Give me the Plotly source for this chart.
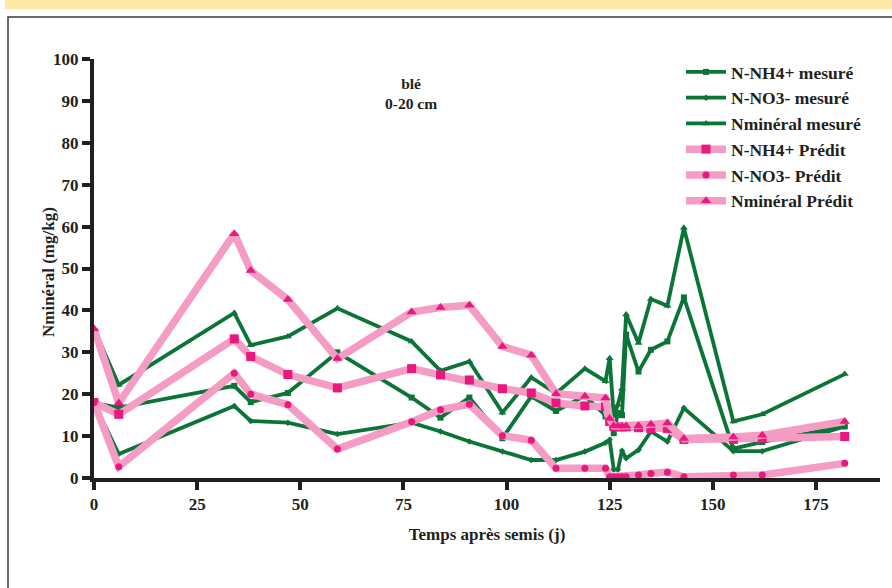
import plotly.graph_objects as go

# ---------------- data ----------------
t_meas = [0, 6, 34, 38, 47, 59, 77, 84, 91, 99, 106, 112, 119, 124, 125, 126, 127, 128, 129, 132, 135, 139, 143, 155, 162, 182]
nh4_meas = [17.9, 16.8, 22.0, 18.1, 20.3, 30.0, 19.2, 14.4, 19.2, 9.5, 19.5, 16.0, 19.6, 14.7, 14.0, 10.7, 15.5, 15.0, 34.2, 25.4, 30.6, 32.6, 43.1, 7.0, 8.6, 12.3]
no3_meas = [17.9, 5.7, 17.2, 13.6, 13.2, 10.5, 13.2, 11.1, 8.7, 6.3, 4.3, 4.3, 6.3, 8.4, 9.1, 2.0, 2.0, 6.5, 4.7, 6.7, 11.1, 8.7, 16.7, 6.4, 6.4, 12.3]
nmin_meas = [35.6, 22.2, 39.4, 31.7, 33.8, 40.5, 32.6, 25.6, 27.8, 15.6, 24.0, 20.2, 26.1, 23.1, 28.6, 14.8, 17.5, 21.3, 39.0, 32.2, 42.7, 41.1, 59.7, 13.5, 15.2, 24.8]

t_pred = [0, 6, 34, 38, 47, 59, 77, 84, 91, 99, 106, 112, 119, 124, 125, 126, 127, 128, 129, 132, 135, 139, 143, 155, 162, 182]
nh4_pred = [18.0, 15.2, 33.2, 29.0, 24.7, 21.5, 26.1, 24.6, 23.4, 21.3, 20.3, 17.9, 17.2, 17.0, 13.5, 12.3, 12.2, 12.2, 12.2, 12.0, 11.8, 11.8, 9.2, 9.2, 9.5, 9.9]
no3_pred = [18.0, 2.7, 25.0, 20.0, 17.5, 6.9, 13.4, 16.3, 17.6, 10.1, 9.0, 2.3, 2.3, 2.3, 0.3, 0.3, 0.3, 0.3, 0.3, 0.7, 1.1, 1.4, 0.3, 0.7, 0.7, 3.5]
nmin_pred = [35.6, 17.9, 58.3, 49.5, 42.6, 28.5, 39.6, 40.7, 41.2, 31.4, 29.3, 20.1, 19.5, 19.1, 14.2, 12.5, 12.4, 12.4, 12.4, 12.5, 12.8, 13.1, 9.4, 9.8, 10.2, 13.5]

x_ticks = [0, 25, 50, 75, 100, 125, 150, 175]
y_ticks = [0, 10, 20, 30, 40, 50, 60, 70, 80, 90, 100]

labels_meas = ["N-NH4+ mesuré", "N-NO3- mesuré", "Nminéral mesuré"]
labels_pred = ["N-NH4+ Prédit", "N-NO3- Prédit", "Nminéral Prédit"]

# ---------------- style ----------------
GREEN = "#0B7437"
PINK_LINE = "#F49CC4"
PINK_MARK = "#E8187F"
AXIS = "#231F20"
SERIF = "Liberation Serif"

W, H = 892, 588
L, R, T, B = 94, 880, 59, 478


def px_x(p):
    return (p - L) / (R - L)


def px_y(p):
    return (B - p) / (B - T)


fig = go.Figure()

meas_series = [nh4_meas, no3_meas, nmin_meas]
meas_symbols = ["square", "diamond", "triangle-up"]
meas_sizes = [6, 5, 7]
for i, (ys, lab, sym, sz) in enumerate(zip(meas_series, labels_meas, meas_symbols, meas_sizes)):
    fig.add_trace(go.Scatter(
        x=t_meas, y=ys, name=lab, mode="lines+markers",
        line=dict(color=GREEN, width=3.8),
        marker=dict(symbol=sym, size=sz, color=GREEN),
        legendgroup="g%d" % i,
    ))

pred_series = [nh4_pred, no3_pred, nmin_pred]
pred_symbols = ["square", "circle", "triangle-up"]
pred_sizes = [9, 7, 9]
for i, (ys, lab, sym, sz) in enumerate(zip(pred_series, labels_pred, pred_symbols, pred_sizes)):
    fig.add_trace(go.Scatter(
        x=t_pred, y=ys, name=lab, mode="lines+markers",
        line=dict(color=PINK_LINE, width=7.5),
        marker=dict(symbol=sym, size=sz, color=PINK_MARK),
        legendgroup="p%d" % i,
    ))

shapes = [
    # yellow band at top
    dict(type="rect", xref="paper", yref="paper",
         x0=px_x(5), x1=px_x(900), y0=px_y(9), y1=px_y(-5),
         fillcolor="#FFE8A3", line=dict(width=0), layer="below"),
    # frame
    dict(type="rect", xref="paper", yref="paper",
         x0=px_x(8), x1=px_x(905), y0=px_y(600), y1=px_y(17),
         fillcolor="rgba(0,0,0,0)", line=dict(color="#3A3A3A", width=1.5), layer="below"),
]

annotations = [
    dict(text="<b>blé<br>0-20 cm</b>", xref="paper", yref="paper",
         x=px_x(411), y=px_y(93), xanchor="center", yanchor="middle",
         showarrow=False, align="center",
         font=dict(family=SERIF, size=15.5, color=AXIS)),
    dict(text="<b>Nminéral (mg/kg)</b>", xref="paper", yref="paper",
         x=px_x(48), y=px_y(272), xanchor="center", yanchor="middle",
         textangle=-90, showarrow=False,
         font=dict(family=SERIF, size=17, color=AXIS)),
]

fig.update_layout(
    width=W, height=H,
    margin=dict(l=L, r=W - R, t=T, b=H - B, pad=0),
    paper_bgcolor="white", plot_bgcolor="white",
    shapes=shapes, annotations=annotations,
    showlegend=True,
    legend=dict(
        x=px_x(681), y=px_y(54), xanchor="left", yanchor="top",
        font=dict(family=SERIF, size=17.5, color=AXIS, weight="bold"),
        bgcolor="rgba(0,0,0,0)", tracegroupgap=0, traceorder="grouped",
        itemwidth=40,
    ),
    xaxis=dict(
        range=[0, (R - L) / 4.125], tickvals=x_ticks,
        ticks="outside", ticklen=8, tickwidth=4, tickcolor=AXIS,
        showline=True, linewidth=4, linecolor=AXIS,
        showgrid=False, zeroline=False,
        tickfont=dict(family=SERIF, size=17, color=AXIS, weight="bold"),
        title=dict(text="Temps après semis (j)", standoff=16,
                   font=dict(family=SERIF, size=17, color=AXIS, weight="bold")),
    ),
    yaxis=dict(
        range=[0, 100], tickvals=y_ticks,
        ticks="outside", ticklen=8, tickwidth=4, tickcolor=AXIS,
        showline=True, linewidth=4, linecolor=AXIS,
        showgrid=False, zeroline=False,
        tickfont=dict(family=SERIF, size=17, color=AXIS, weight="bold"),
    ),
)

fig.write_html("out.html")
